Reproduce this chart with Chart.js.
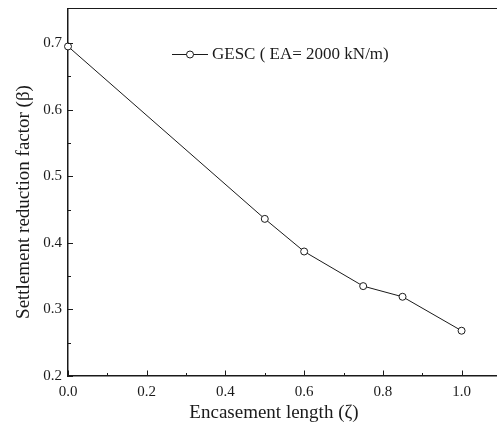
<!DOCTYPE html>
<html>
<head>
<meta charset="utf-8">
<script src="https://cdn.jsdelivr.net/npm/chart.js@4/dist/chart.umd.min.js"></script>
<style>
html,body{margin:0;padding:0;background:#fff;overflow:hidden;}
#wrap{width:497px;height:426px;position:relative;}
</style>
</head>
<body>
<div id="wrap"><canvas id="c" width="497" height="426"></canvas></div>
<script>
// Data
const encasementLength = [0.0, 0.5, 0.6, 0.75, 0.85, 1.0];
const settlementFactor = [0.695, 0.436, 0.387, 0.335, 0.319, 0.268];
const seriesLabel = "GESC ( EA= 2000 kN/m)";
const xTickValues = [0.0, 0.2, 0.4, 0.6, 0.8, 1.0];
const xMinorValues = [0.1, 0.3, 0.5, 0.7, 0.9];
const yTickValues = [0.2, 0.3, 0.4, 0.5, 0.6, 0.7];
const yMinorValues = [0.25, 0.35, 0.45, 0.55, 0.65];
const xTitle = "Encasement length (\u03B6)";
const yTitle = "Settlement reduction factor (\u03B2)";

const FONT = "'Liberation Serif', 'Times New Roman', serif";
const INK = '#1a1a1a';

const decor = {
  id: 'decor',
  afterDraw(chart) {
    const ctx = chart.ctx;
    const xs = chart.scales.x, ys = chart.scales.y;
    const a = chart.chartArea;
    ctx.save();
    ctx.strokeStyle = INK;
    ctx.lineWidth = 1.2;
    // top frame line
    ctx.beginPath();
    ctx.moveTo(a.left, a.top);
    ctx.lineTo(chart.width, a.top);
    ctx.stroke();
    // inward ticks
    ctx.lineWidth = 1;
    const drawX = (vals, len) => vals.forEach(v => {
      const p = Math.round(xs.getPixelForValue(v)) + 0.5;
      ctx.beginPath(); ctx.moveTo(p, a.bottom); ctx.lineTo(p, a.bottom - len); ctx.stroke();
    });
    const drawY = (vals, len) => vals.forEach(v => {
      const p = Math.round(ys.getPixelForValue(v)) + 0.5;
      ctx.beginPath(); ctx.moveTo(a.left, p); ctx.lineTo(a.left + len, p); ctx.stroke();
    });
    drawX(xTickValues, 5.5); drawX(xMinorValues, 3);
    drawY(yTickValues, 5); drawY(yMinorValues, 3);
    // axis titles
    ctx.fillStyle = INK;
    ctx.font = "19px " + FONT;
    ctx.textAlign = 'center';
    ctx.textBaseline = 'middle';
    ctx.fillText(xTitle, 274, 413);
    ctx.save();
    ctx.translate(24, 202);
    ctx.rotate(-Math.PI / 2);
    ctx.fillText(yTitle, 0, 0);
    ctx.restore();
    // legend
    const ly = 54.5;
    ctx.beginPath(); ctx.moveTo(172, ly); ctx.lineTo(208, ly); ctx.stroke();
    ctx.beginPath(); ctx.arc(190, ly, 3.5, 0, Math.PI * 2);
    ctx.fillStyle = '#fff'; ctx.fill(); ctx.stroke();
    ctx.fillStyle = INK;
    ctx.font = "17px " + FONT;
    ctx.textAlign = 'left';
    ctx.fillText(chart.data.datasets[0].label, 212, ly);
    ctx.restore();
  }
};

new Chart(document.getElementById('c'), {
  type: 'line',
  data: {
    datasets: [{
      label: seriesLabel,
      data: encasementLength.map((x, i) => ({x: x, y: settlementFactor[i]})),
      borderColor: INK,
      borderWidth: 1,
      pointRadius: 3.5,
      pointBackgroundColor: '#fff',
      pointBorderColor: INK,
      pointBorderWidth: 1,
      tension: 0,
      clip: false
    }]
  },
  options: {
    responsive: false,
    animation: false,
    devicePixelRatio: 1,
    layout: {autoPadding: false, padding: {top: 8.5, right: 0, left: 0, bottom: 0}},
    plugins: {legend: {display: false}, tooltip: {enabled: false}},
    scales: {
      x: {
        type: 'linear',
        min: 0, max: 1.09,
        afterBuildTicks: s => { s.ticks = xTickValues.map(v => ({value: v})); },
        afterFit: s => { s.height = 50; s.paddingLeft = 0; s.paddingRight = 0; },
        grid: {display: false, drawTicks: false},
        border: {display: true, color: INK, width: 1.5},
        ticks: {
          padding: 7,
          color: INK,
          font: {family: FONT, size: 15},
          maxRotation: 0,
          callback: v => v.toFixed(1)
        }
      },
      y: {
        type: 'linear',
        min: 0.2, max: 0.752,
        afterBuildTicks: s => { s.ticks = yTickValues.map(v => ({value: v})); },
        afterFit: s => { s.width = 68; s.paddingTop = 0; s.paddingBottom = 0; },
        grid: {display: false, drawTicks: false},
        border: {display: true, color: INK, width: 1.5},
        ticks: {
          padding: 6,
          color: INK,
          font: {family: FONT, size: 15},
          callback: v => v.toFixed(1)
        }
      }
    }
  },
  plugins: [decor]
});
</script>
</body>
</html>
